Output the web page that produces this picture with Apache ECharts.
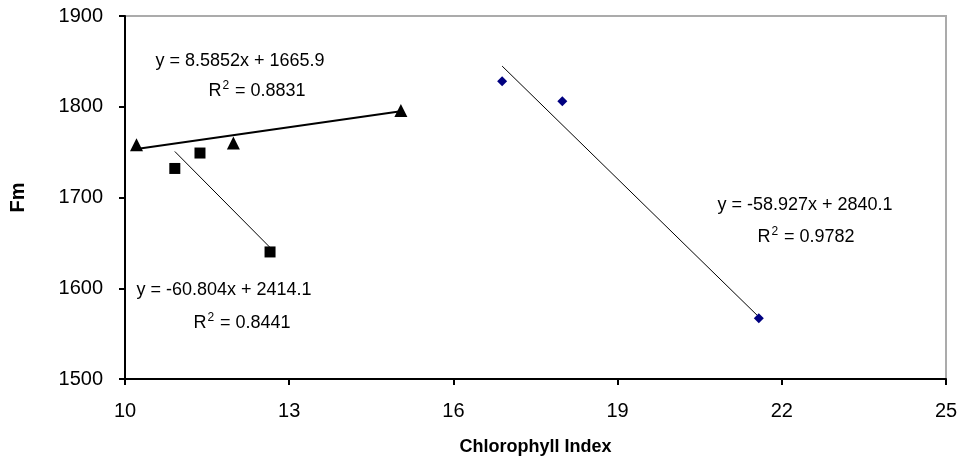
<!DOCTYPE html>
<html>
<head>
<meta charset="utf-8">
<script src="https://cdn.jsdelivr.net/npm/echarts@6/dist/echarts.min.js"></script>
<style>
  html, body { margin: 0; padding: 0; background: #fff; }
  #chart { width: 963px; height: 462px; }
</style>
</head>
<body>
<div id="chart"></div>
<script>
// Measured points, one group per marker style
const triangleX = [10.21, 11.98, 15.04];
const triangleY = [1758, 1760, 1796];
const squareX = [10.91, 11.37, 12.65];
const squareY = [1732, 1749, 1640];
const diamondX = [16.89, 17.99, 21.58];
const diamondY = [1828, 1806, 1567];

// Linear fits (slope, intercept, R²) for triangle, square and diamond groups
const fitSlope = [8.5852, -60.804, -58.927];
const fitIntercept = [1665.9, 2414.1, 2840.1];
const fitR2 = ['0.8831', '0.8441', '0.9782'];

// Axis ticks
const xTicks = [10, 13, 16, 19, 22, 25];
const yTicks = [1500, 1600, 1700, 1800, 1900];

const FONT = '"Liberation Sans", Arial, sans-serif';

function pairs(xs, ys) { return xs.map((x, i) => [x, ys[i]]); }

// Trend line spans the x range of its own group
function fitLine(xs, k) {
  const lo = Math.min(...xs), hi = Math.max(...xs);
  return [[lo, fitSlope[k] * lo + fitIntercept[k]], [hi, fitSlope[k] * hi + fitIntercept[k]]];
}

function eqText(k) {
  return 'y = ' + fitSlope[k] + 'x + ' + fitIntercept[k];
}

const groups = [triangleX, squareX, diamondX];
const lineWidths = [2, 1, 1];

const chart = echarts.init(document.getElementById('chart'), null, { renderer: 'canvas' });

const fitSeries = groups.map((xs, k) => ({
  type: 'line',
  data: fitLine(xs, k),
  symbol: 'none',
  silent: true,
  lineStyle: { color: '#000', width: lineWidths[k] },
  z: 2
}));

// Equation labels: centre positions in the drawing area
const labelPos = [
  { eq: [240, 61], r2: [257, 90] },
  { eq: [224, 290], r2: [242, 322] },
  { eq: [805, 205], r2: [806, 236] }
];

const graphics = [];
labelPos.forEach((p, k) => {
  graphics.push({
    type: 'text', x: p.eq[0], y: p.eq[1], z: 10,
    style: { text: eqText(k), font: '18px ' + FONT, fill: '#000', align: 'center', verticalAlign: 'middle' }
  });
  graphics.push({
    type: 'text', x: p.r2[0], y: p.r2[1], z: 10,
    style: {
      text: '{b|R}{sup|2}{b| = ' + fitR2[k] + '}',
      fill: '#000', align: 'center', verticalAlign: 'middle',
      rich: {
        b: { fontSize: 18, fontFamily: FONT, fill: '#000', verticalAlign: 'bottom' },
        sup: { fontSize: 12, fontFamily: FONT, fill: '#000', verticalAlign: 'bottom', padding: [0, 1, 9, 1] }
      }
    }
  });
});

chart.setOption({
  animation: false,
  backgroundColor: '#fff',
  grid: {
    left: 125, right: 17, top: 16, bottom: 83,
    show: true, borderColor: '#ababab', borderWidth: 2, backgroundColor: 'transparent'
  },
  xAxis: {
    type: 'value',
    min: xTicks[0], max: xTicks[xTicks.length - 1], interval: xTicks[1] - xTicks[0],
    axisLine: { lineStyle: { color: '#000', width: 2 } },
    axisTick: { length: 6, lineStyle: { color: '#000', width: 2 } },
    splitLine: { show: false },
    axisLabel: { color: '#000', fontSize: 20, fontFamily: FONT, margin: 22 },
    name: 'Chlorophyll Index',
    nameLocation: 'middle',
    nameGap: 59,
    nameTextStyle: { color: '#000', fontSize: 18, fontWeight: 'bold', fontFamily: FONT }
  },
  yAxis: {
    type: 'value',
    min: yTicks[0], max: yTicks[yTicks.length - 1], interval: yTicks[1] - yTicks[0],
    axisLine: { show: true, lineStyle: { color: '#000', width: 2 } },
    axisTick: { show: true, length: 6, lineStyle: { color: '#000', width: 2 } },
    splitLine: { show: false },
    axisLabel: { color: '#000', fontSize: 20, fontFamily: FONT, margin: 22, formatter: v => String(v) },
    name: 'Fm',
    nameLocation: 'middle',
    nameGap: 97,
    nameTextStyle: { color: '#000', fontSize: 20, fontWeight: 'bold', fontFamily: FONT }
  },
  series: [
    ...fitSeries,
    {
      type: 'scatter', data: pairs(triangleX, triangleY),
      symbol: 'triangle', symbolSize: 13,
      itemStyle: { color: '#000', opacity: 1 }, z: 3
    },
    {
      type: 'scatter', data: pairs(squareX, squareY),
      symbol: 'rect', symbolSize: 11,
      itemStyle: { color: '#000', opacity: 1 }, z: 3
    },
    {
      type: 'scatter', data: pairs(diamondX, diamondY),
      symbol: 'diamond', symbolSize: 10,
      itemStyle: { color: '#000080', opacity: 1 }, z: 3
    }
  ],
  graphic: graphics
});
</script>
</body>
</html>
